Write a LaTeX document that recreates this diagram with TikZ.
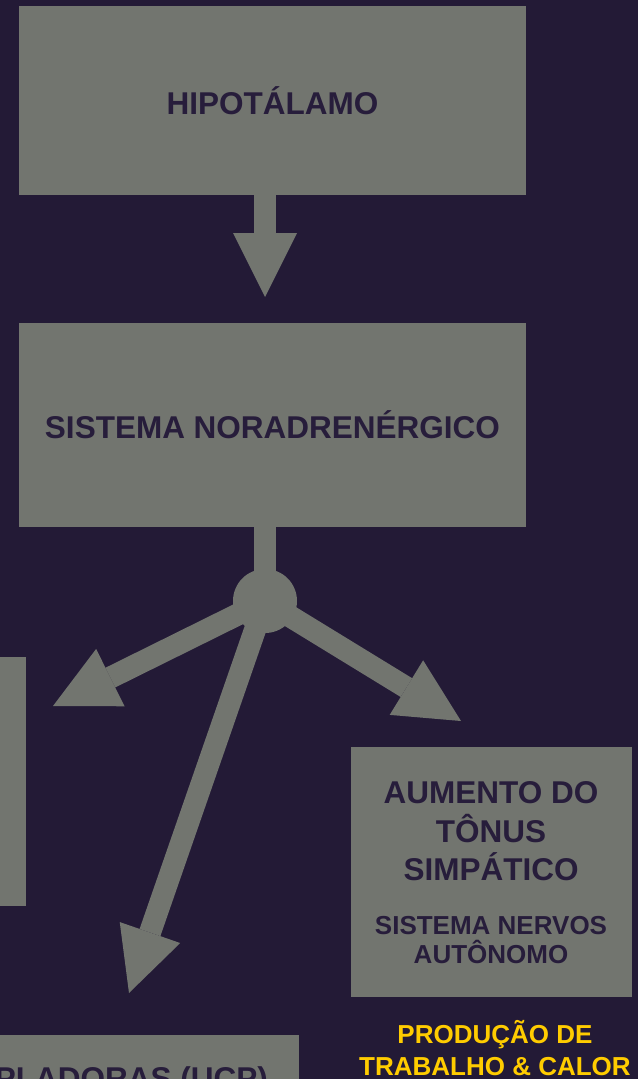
\documentclass[tikz,border=0pt]{standalone}
\usepackage{fontspec}
\setmainfont{Liberation Sans}
\usetikzlibrary{arrows.meta}

\definecolor{bgpurple}{RGB}{35,26,54}
\definecolor{boxgray}{RGB}{114,117,111}
\definecolor{inkdark}{RGB}{39,29,59}
\definecolor{heatyellow}{RGB}{255,204,0}

\newcommand{\bigtext}{\bfseries\fontsize{31.5}{38}\selectfont}
\newcommand{\smalltext}{\bfseries\fontsize{26}{30}\selectfont}

\begin{document}
\begin{tikzpicture}[x=1pt, y=-1pt,
        box/.style={fill=boxgray, inner sep=0pt, text=inkdark, font=\bigtext},
        boxtext/.style={inner sep=0pt, text=inkdark},
        heattext/.style={inner sep=0pt, text=heatyellow, font=\smalltext},
        bigarrow/.style={draw=boxgray, line width=22pt, -{Triangle[length=64pt, width=64pt, line width=0pt]}}]

        \useasboundingbox (0,0) rectangle (638,1079);
        \clip (0,0) rectangle (638,1079);
        \fill[bgpurple] (0,0) rectangle (638,1079);

        \node[box, minimum width=507pt, minimum height=189pt] (hipo)  at (272.5,100.5) {HIPOTÁLAMO};
        \node[box, minimum width=507pt, minimum height=204pt] (nora)  at (272.5,425)   {SISTEMA NORADRENÉRGICO};
        \node[box, minimum width=256pt, minimum height=249pt] (left)  at (-102,781.5)  {};
        \node[box, minimum width=281pt, minimum height=250pt] (tonus) at (491.5,872)   {};
        \node[box, minimum width=320pt, minimum height=120pt] (ucp)   at (139,1095)    {};

        \node[boxtext, font=\bigtext,   anchor=base] (aumento)  at (491,803) {AUMENTO DO};
        \node[boxtext, font=\bigtext,   anchor=base] (tonusw)   at (491,842) {TÔNUS};
        \node[boxtext, font=\bigtext,   anchor=base] (simpat)   at (491,880) {SIMPÁTICO};
        \node[boxtext, font=\smalltext, anchor=base] (sistema)  at (491,934) {SISTEMA NERVOS};
        \node[boxtext, font=\smalltext, anchor=base] (autonomo) at (491,963) {AUTÔNOMO};

        \node[boxtext, font=\bigtext, anchor=base east] (ucptext) at (268,1089.5) {PLADORAS (UCP)};

        \node[heattext, anchor=base] (prod)  at (495,1043) {PRODUÇÃO DE};
        \node[heattext, anchor=base] (calor) at (495,1075) {TRABALHO \& CALOR};

        \node[circle, fill=boxgray, minimum size=64pt, inner sep=0pt] (hub) at (265,601) {};

        \coordinate (tipH) at (265,297);
        \coordinate (tipL) at (53,706);
        \coordinate (tipR) at (461,721);
        \coordinate (tipD) at (129,993);

        \draw [bigarrow]                          (hipo.south -| hub) -- (tipH);
        \draw [draw=boxgray, line width=22pt]     (nora.south -| hub) -- (hub.center);
        \draw [bigarrow]                          (hub.center) -- (tipL);
        \draw [bigarrow]                          (hub.center) -- (tipR);
        \draw [bigarrow]                          (hub.center) -- (tipD);
    \end{tikzpicture}
\end{document}
